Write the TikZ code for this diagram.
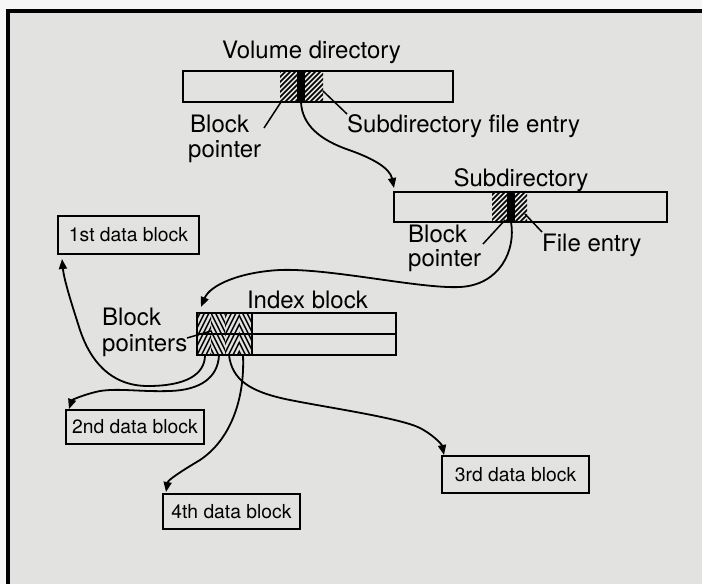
\documentclass[tikz,border=0pt]{standalone}
\usepackage{fontspec}
\setmainfont{TeX Gyre Heros}
\usetikzlibrary{arrows.meta}
\definecolor{paper}{RGB}{226,226,224}
\definecolor{margin}{RGB}{246,246,246}
\tikzset{
  wire/.style={line width=1.8pt, -{Triangle[length=10pt,width=8pt]}},
  leader/.style={line width=1.5pt},
  bar/.style={draw, line width=1.7pt, inner sep=0pt},
  datablock/.style={draw, line width=1.8pt, inner sep=0pt,
    font=\fontsize{19.3}{22}\selectfont},
  lab/.style={font=\fontsize{24}{26}\selectfont, inner sep=0pt},
  hatch/.style={line width=1.7pt},
  chevron/.style={line width=1.4pt}
}
\begin{document}
\begin{tikzpicture}[x=1pt,y=-1pt]
\useasboundingbox (0,0) rectangle (702,584);
% page and frame
\fill[margin] (0,0) rectangle (702,584);
\fill[paper] (8,11) rectangle (702,584);
\draw[line width=3.5pt, line join=miter] (8,584) -- (8,11) -- (702,11);

% ---------- volume directory ----------
\begin{scope}
  \clip (280,71) rectangle (297,102) (305,71) rectangle (323,102);
  \foreach \x in {240,245,...,330} \draw[hatch] (\x,102) -- ++(31,-31);
\end{scope}
\fill (297,71) rectangle (305,102);
\node[bar, minimum width=270pt, minimum height=31pt] (vol) at (318,86.5) {};
\node[lab, anchor=base] (voltitle) at (311.5,58) {Volume directory};
\node[lab, anchor=base west] (volbp1) at (190,132) {Block};
\node[lab, anchor=base west] (volbp2) at (188,157) {pointer};
\node[lab, anchor=base west] (volfe) at (347,132) {Subdirectory file entry};
\coordinate (volptr) at (301,102);
\coordinate (volbpa) at (264,128);
\coordinate (volbpb) at (281,102);
\coordinate (volfea) at (323,91);
\coordinate (volfeb) at (347,114);
\draw[leader] (volbpa) -- (volbpb);
\draw[leader] (volfea) -- (volfeb);

% ---------- subdirectory ----------
\begin{scope}
  \clip (492,192) rectangle (507,222) (515,192) rectangle (527,222);
  \foreach \x in {455,460,...,530} \draw[hatch] (\x,222) -- ++(30,-30);
\end{scope}
\fill (507,192) rectangle (515,222);
\node[bar, minimum width=273pt, minimum height=30pt] (sub) at (530.5,207) {};
\node[lab, anchor=base] (subtitle) at (521,186) {Subdirectory};
\node[lab, anchor=base west] (subbp1) at (408,242) {Block};
\node[lab, anchor=base west] (subbp2) at (408,266) {pointer};
\node[lab, anchor=base west] (subfe) at (542,251) {File entry};
\coordinate (subin) at (394,188);
\coordinate (subptr) at (511,222);
\coordinate (subbpa) at (483,244);
\coordinate (subbpb) at (505,220);
\coordinate (subfea) at (525,214);
\coordinate (subfeb) at (542,232);
\draw[leader] (subbpa) -- (subbpb);
\draw[leader] (subfea) -- (subfeb);

% ---------- index block ----------
\begin{scope}
  \clip (197,313) rectangle (211,355) (225,313) rectangle (239,355);
  \foreach \x in {170,174.5,...,245} \draw[chevron] (\x,355) -- ++(21,-42);
\end{scope}
\begin{scope}
  \clip (211,313) rectangle (225,355) (239,313) rectangle (252,355);
  \foreach \x in {205,209.5,...,285} \draw[chevron] (\x,355) -- ++(-21,-42);
\end{scope}
\node[bar, minimum width=199pt, minimum height=42pt] (idx) at (296.5,334) {};
\draw[line width=1.5pt] (idx.west) -- (idx.east);
\draw[line width=1.5pt] (252,313) -- (252,355);
\node[lab, anchor=base] (idxtitle) at (307.5,308) {Index block};
\node[lab, anchor=base west] (idxbp1) at (102,325) {Block};
\node[lab, anchor=base west] (idxbp2) at (102,351) {pointers};
\coordinate (idxin) at (201,307);
\coordinate (idxbpa) at (187,338);
\coordinate (idxbpb) at (211,331);
\draw[leader] (idxbpa) -- (idxbpb);
\coordinate (p1) at (205,355);
\coordinate (p2) at (219,355);
\coordinate (p3) at (229,355);
\coordinate (p4) at (243,355);

% ---------- data blocks ----------
\node[datablock, minimum width=141pt, minimum height=38pt] (d1) at (128.5,235) {1st data block};
\node[datablock, minimum width=138pt, minimum height=34pt] (d2) at (135,427) {2nd data block};
\node[datablock, minimum width=147pt, minimum height=37pt] (d3) at (515.5,474.5) {3rd data block};
\node[datablock, minimum width=137pt, minimum height=35pt] (d4) at (231.5,511.5) {4th data block};
\coordinate (d1in) at (62,259);
\coordinate (d2in) at (69,409);
\coordinate (d3in) at (444,455);
\coordinate (d4in) at (166,492);

% ---------- pointer chains ----------
\draw[wire] (volptr) .. controls (302,125) and (320,140) .. (349,150)
  .. controls (372,158) and (390,168) .. (subin);
\draw[wire] (subptr) .. controls (516,250) and (500,285) .. (460,287)
  .. controls (420,289) and (330,268) .. (280,270)
  .. controls (240,272) and (210,285) .. (idxin);
\draw[wire] (p1) .. controls (205,375) and (185,386) .. (148,386)
  .. controls (110,386) and (90,360) .. (80,330)
  .. controls (72,305) and (64,280) .. (d1in);
\draw[wire] (p2) .. controls (218,378) and (200,390) .. (170,391)
  .. controls (140,392) and (120,388) .. (100,391)
  .. controls (85,394) and (72,400) .. (d2in);
\draw[wire] (p3) .. controls (232,380) and (250,392) .. (290,400)
  .. controls (330,408) and (400,418) .. (420,428)
  .. controls (435,436) and (442,445) .. (d3in);
\draw[wire] (p4) .. controls (245,400) and (230,440) .. (200,460)
  .. controls (180,472) and (168,480) .. (d4in);
\end{tikzpicture}
\end{document}
